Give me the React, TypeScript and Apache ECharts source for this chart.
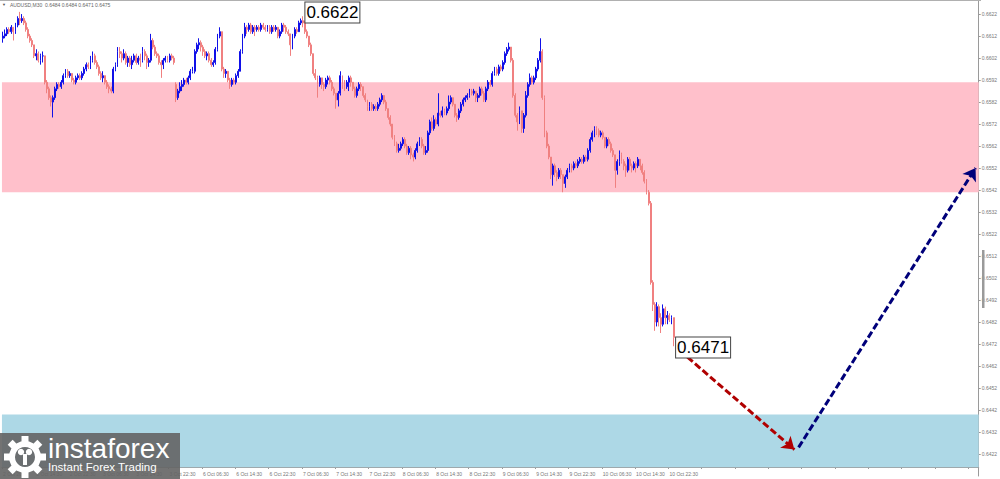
import React, { useEffect, useRef } from 'react';
import * as echarts from 'echarts';

// Prices are in 1/10000 (pips): 6612 => 0.6612. Open of each M30 bar = previous close, except the weekend gap bar.
const FIRST_OPEN = 6611;
const GAP_OPENS: Record<number, number> = { 83: 6590, 322: 6484 };

const CLOSE = [
  6612, 6613, 6615, 6614, 6616, 6614, 6617, 6620, 6619, 6620,
  6618, 6615, 6612, 6610, 6608, 6603, 6604, 6601, 6603, 6603,
  6591, 6588, 6584, 6582, 6584, 6588, 6590, 6589, 6591, 6594,
  6596, 6594, 6595, 6592, 6591, 6593, 6594, 6593, 6595, 6597,
  6599, 6598, 6601, 6603, 6600, 6598, 6595, 6593, 6594, 6591,
  6589, 6588, 6587, 6597, 6599, 6605, 6604, 6602, 6604, 6600,
  6602, 6599, 6601, 6603, 6600, 6602, 6601, 6605, 6603, 6600,
  6601, 6610, 6607, 6604, 6603, 6600, 6599, 6601, 6602, 6601,
  6603, 6602, 6600, 6584, 6587, 6589, 6590, 6592, 6591, 6593,
  6596, 6596, 6605, 6608, 6609, 6607, 6605, 6603, 6604, 6601,
  6599, 6600, 6606, 6612, 6614, 6597, 6595, 6596, 6592, 6590,
  6592, 6591, 6594, 6596, 6605, 6612, 6616, 6615, 6617, 6614,
  6616, 6615, 6616, 6615, 6617, 6616, 6615, 6616, 6614, 6616,
  6615, 6616, 6612, 6614, 6617, 6616, 6614, 6613, 6608, 6612,
  6615, 6614, 6618, 6619, 6618, 6614, 6612, 6608, 6604, 6595,
  6593, 6590, 6593, 6590, 6589, 6592, 6593, 6591, 6588, 6586,
  6583, 6586, 6594, 6590, 6589, 6591, 6593, 6591, 6588, 6585,
  6588, 6590, 6589, 6585, 6583, 6580, 6581, 6579, 6580, 6579,
  6581, 6583, 6585, 6582, 6579, 6575, 6572, 6566, 6563, 6560,
  6561, 6563, 6565, 6562, 6559, 6561, 6558, 6557, 6560, 6563,
  6565, 6562, 6559, 6560, 6568, 6573, 6570, 6574, 6572, 6577,
  6576, 6578, 6577, 6579, 6582, 6584, 6581, 6576, 6575, 6578,
  6581, 6583, 6584, 6585, 6587, 6586, 6587, 6584, 6585, 6588,
  6586, 6583, 6588, 6591, 6590, 6595, 6597, 6595, 6598, 6597,
  6600, 6604, 6606, 6607, 6601, 6585, 6576, 6573, 6578, 6570,
  6576, 6585, 6590, 6593, 6591, 6593, 6597, 6601, 6605, 6584,
  6568, 6562, 6557, 6549, 6553, 6550, 6548, 6551, 6549, 6545,
  6548, 6551, 6553, 6552, 6554, 6553, 6555, 6556, 6555, 6557,
  6556, 6560, 6565, 6568, 6570, 6569, 6567, 6568, 6566, 6562,
  6565, 6563, 6560, 6558, 6551, 6555, 6558, 6555, 6553, 6551,
  6556, 6553, 6552, 6554, 6553, 6556, 6553, 6550, 6546, 6541,
  6536, 6500, 6490, 6482, 6489, 6484, 6481, 6488, 6484, 6485,
  6483, 6484, 6475,
];

const HIGH = [
  6614, 6615, 6616, 6616, 6617, 6616, 6618, 6621, 6623, 6622,
  6621, 6619, 6616, 6613, 6611, 6608, 6606, 6605, 6604, 6605,
  6603, 6592, 6589, 6585, 6585, 6589, 6591, 6591, 6592, 6595,
  6597, 6597, 6596, 6595, 6593, 6594, 6595, 6595, 6596, 6598,
  6600, 6600, 6603, 6605, 6604, 6601, 6599, 6596, 6596, 6594,
  6592, 6590, 6589, 6598, 6600, 6607, 6607, 6605, 6606, 6605,
  6603, 6603, 6603, 6604, 6604, 6603, 6604, 6607, 6606, 6604,
  6602, 6613, 6611, 6608, 6605, 6604, 6601, 6602, 6603, 6603,
  6604, 6604, 6603, 6591, 6588, 6591, 6592, 6593, 6593, 6594,
  6597, 6598, 6606, 6609, 6611, 6610, 6608, 6606, 6605, 6605,
  6602, 6601, 6607, 6613, 6616, 6614, 6598, 6597, 6596, 6593,
  6593, 6593, 6595, 6597, 6606, 6613, 6618, 6617, 6618, 6618,
  6617, 6617, 6617, 6617, 6618, 6618, 6617, 6617, 6617, 6617,
  6617, 6617, 6616, 6615, 6618, 6618, 6617, 6615, 6613, 6613,
  6616, 6616, 6619, 6620, 6621, 6619, 6615, 6612, 6609, 6604,
  6597, 6594, 6594, 6593, 6591, 6593, 6594, 6594, 6592, 6589,
  6586, 6587, 6596, 6594, 6592, 6592, 6594, 6594, 6591, 6589,
  6589, 6591, 6591, 6589, 6586, 6583, 6582, 6582, 6581, 6581,
  6582, 6584, 6586, 6585, 6583, 6579, 6576, 6572, 6567, 6564,
  6563, 6564, 6566, 6566, 6563, 6562, 6562, 6559, 6561, 6564,
  6566, 6566, 6563, 6562, 6569, 6574, 6575, 6576, 6575, 6586,
  6578, 6580, 6579, 6580, 6585, 6585, 6584, 6581, 6577, 6579,
  6582, 6584, 6585, 6586, 6588, 6588, 6588, 6587, 6586, 6589,
  6589, 6587, 6589, 6592, 6592, 6596, 6598, 6598, 6599, 6599,
  6601, 6605, 6607, 6609, 6607, 6602, 6586, 6577, 6580, 6577,
  6577, 6587, 6591, 6595, 6594, 6594, 6598, 6602, 6611, 6606,
  6585, 6569, 6563, 6557, 6554, 6554, 6551, 6552, 6552, 6549,
  6549, 6552, 6554, 6554, 6555, 6555, 6556, 6557, 6557, 6558,
  6558, 6561, 6566, 6569, 6571, 6571, 6570, 6569, 6569, 6566,
  6566, 6566, 6564, 6561, 6558, 6556, 6560, 6559, 6556, 6554,
  6557, 6557, 6554, 6555, 6555, 6557, 6556, 6554, 6551, 6547,
  6542, 6537, 6501, 6491, 6491, 6490, 6486, 6490, 6489, 6487,
  6486, 6485, 6484,
];

const LOW = [
  6609, 6611, 6612, 6613, 6613, 6610, 6613, 6616, 6617, 6618,
  6617, 6614, 6611, 6609, 6607, 6602, 6601, 6600, 6599, 6600,
  6590, 6586, 6583, 6580, 6575, 6583, 6587, 6588, 6588, 6590,
  6593, 6593, 6593, 6591, 6590, 6590, 6592, 6592, 6592, 6594,
  6596, 6597, 6597, 6600, 6599, 6597, 6594, 6592, 6591, 6590,
  6588, 6586, 6586, 6586, 6596, 6598, 6602, 6600, 6601, 6599,
  6598, 6598, 6597, 6600, 6599, 6599, 6598, 6600, 6601, 6597,
  6598, 6600, 6606, 6603, 6602, 6599, 6593, 6597, 6600, 6600,
  6600, 6601, 6599, 6582, 6583, 6586, 6587, 6589, 6590, 6590,
  6592, 6595, 6595, 6604, 6606, 6605, 6603, 6602, 6601, 6600,
  6598, 6598, 6599, 6605, 6611, 6596, 6593, 6593, 6591, 6588,
  6589, 6590, 6590, 6593, 6596, 6604, 6611, 6613, 6614, 6613,
  6613, 6612, 6614, 6614, 6614, 6615, 6614, 6614, 6613, 6613,
  6614, 6614, 6611, 6611, 6613, 6614, 6613, 6612, 6603, 6606,
  6611, 6613, 6614, 6617, 6616, 6613, 6611, 6607, 6603, 6594,
  6592, 6584, 6589, 6588, 6587, 6588, 6590, 6590, 6587, 6585,
  6579, 6580, 6585, 6588, 6587, 6588, 6587, 6589, 6587, 6584,
  6584, 6587, 6587, 6584, 6582, 6578, 6578, 6578, 6578, 6578,
  6578, 6580, 6582, 6581, 6578, 6574, 6571, 6565, 6562, 6559,
  6559, 6560, 6562, 6561, 6558, 6558, 6556, 6555, 6556, 6559,
  6562, 6561, 6558, 6558, 6559, 6567, 6569, 6569, 6571, 6571,
  6575, 6575, 6576, 6576, 6578, 6581, 6580, 6575, 6573, 6574,
  6577, 6580, 6582, 6583, 6584, 6585, 6585, 6582, 6582, 6584,
  6585, 6582, 6582, 6587, 6589, 6589, 6594, 6594, 6594, 6596,
  6596, 6599, 6603, 6605, 6600, 6584, 6575, 6569, 6572, 6568,
  6568, 6575, 6584, 6589, 6590, 6590, 6592, 6596, 6600, 6583,
  6566, 6561, 6556, 6547, 6544, 6548, 6546, 6547, 6547, 6541,
  6543, 6547, 6550, 6550, 6551, 6552, 6552, 6554, 6554, 6554,
  6555, 6555, 6559, 6564, 6566, 6567, 6566, 6566, 6565, 6561,
  6561, 6562, 6559, 6557, 6543, 6549, 6553, 6554, 6551, 6548,
  6550, 6551, 6550, 6551, 6550, 6552, 6551, 6549, 6545, 6540,
  6535, 6499, 6487, 6478, 6480, 6480, 6477, 6480, 6481, 6481,
  6482, 6481, 6471,
];

// one label every 16 bars (8 hours)
const TICK_LABELS = [
  '2 Oct 2025', '2 Oct 14:30', '2 Oct 22:30', '3 Oct 06:30', '3 Oct 14:30', '3 Oct 22:30',
  '6 Oct 06:30', '6 Oct 14:30', '6 Oct 22:30', '7 Oct 06:30', '7 Oct 14:30', '7 Oct 22:30',
  '8 Oct 06:30', '8 Oct 14:30', '8 Oct 22:30', '9 Oct 06:30', '9 Oct 14:30', '9 Oct 22:30',
  '10 Oct 06:30', '10 Oct 14:30', '10 Oct 22:30',
];
const TICK_STEP = 16;
const CATEGORY_COUNT = 469; // bars + empty future space

const PRICE_MIN = 0.6412;
const PRICE_MAX = 0.66284;
const PRICE_STEP = 0.001;

const SUPPLY_ZONE = [0.6591, 0.6541];
const DEMAND_ZONE = [0.644, 0.6416];

const WAVE_HIGH = { index: 144, price: 0.66227, text: '0.6622' };
const WAVE_LOW = { index: 322, price: 0.64704, text: '0.6471' };

const FORECAST_DOWN = [[325, 0.6469], [380, 0.6424]];
const FORECAST_UP = [[382, 0.6425], [467, 0.6552]];

const BID_PRICE = 0.6478;
const LAST_PRICE = 0.6475;
const TITLE = 'AUDUSD,M30  0.6484 0.6484 0.6471 0.6475';

const FONT = '"Liberation Sans", Arial, sans-serif';
const BULL = '#1010e8';
const BEAR = '#f08080';

function buildCandles() {
  return CLOSE.map((c, i) => {
    const o = i === 0 ? FIRST_OPEN : GAP_OPENS[i] ?? CLOSE[i - 1];
    const h = Math.max(HIGH[i], o, c);
    const l = Math.min(LOW[i], o, c);
    return [o / 10000, c / 10000, l / 10000, h / 10000];
  });
}

function buildOption(): any {
  const categories = Array.from({ length: CATEGORY_COUNT }, (_, i) => String(i));
  const waveLabel = {
    show: true,
    position: 'right',
    distance: 2,
    color: '#000',
    fontSize: 17,
    fontFamily: FONT,
    lineHeight: 19,
    backgroundColor: '#fff',
    borderColor: '#444',
    borderWidth: 1,
    padding: [1, 1, 0, 1],
  };
  const teeth = Array.from({ length: 8 }, (_, k) => ({
    type: 'rect',
    x: 25,
    y: 457,
    rotation: (k * Math.PI) / 4,
    shape: { x: -3.5, y: -21, width: 7, height: 7 },
    style: { fill: '#fff' },
    z: 101,
  }));
  return {
    animation: false,
    backgroundColor: '#fff',
    grid: { left: 0, right: 19, top: 0, bottom: 3, containLabel: false },
    xAxis: {
      type: 'category',
      data: categories,
      boundaryGap: true,
      offset: -9,
      axisLine: { show: true, lineStyle: { color: '#9a9a9a', width: 1 } },
      axisTick: { show: true, interval: TICK_STEP - 1, length: 2, lineStyle: { color: '#9a9a9a' } },
      axisLabel: {
        interval: TICK_STEP - 1,
        fontSize: 5,
        fontFamily: FONT,
        color: '#777',
        align: 'left',
        margin: 4,
        formatter: (_v: string, idx: number) => {
          const k = idx / TICK_STEP;
          return Number.isInteger(k) && k < TICK_LABELS.length ? TICK_LABELS[k] : '';
        },
      },
      splitLine: { show: false },
    },
    yAxis: {
      type: 'value',
      position: 'right',
      min: PRICE_MIN,
      max: PRICE_MAX,
      interval: PRICE_STEP,
      scale: true,
      axisLine: { show: true, lineStyle: { color: '#9a9a9a', width: 1 } },
      axisTick: { show: true, length: 2, lineStyle: { color: '#9a9a9a' } },
      axisLabel: {
        fontSize: 5,
        fontFamily: FONT,
        color: '#777',
        margin: 3,
        showMinLabel: false,
        showMaxLabel: false,
        formatter: (v: number) => v.toFixed(4),
      },
      splitLine: { show: false },
    },
    series: [
      {
        type: 'candlestick',
        data: buildCandles(),
        barWidth: 1.4,
        silent: true,
        itemStyle: {
          color: BULL,
          color0: BEAR,
          borderColor: BULL,
          borderColor0: BEAR,
          borderWidth: 1,
        },
        markArea: {
          silent: true,
          data: [
            [{ yAxis: SUPPLY_ZONE[0], itemStyle: { color: '#ffc0cb' } }, { yAxis: SUPPLY_ZONE[1] }],
            [{ yAxis: DEMAND_ZONE[0], itemStyle: { color: '#add8e6' } }, { yAxis: DEMAND_ZONE[1] }],
          ],
        },
        markPoint: {
          silent: true,
          symbol: 'rect',
          symbolSize: 1,
          itemStyle: { color: 'rgba(0,0,0,0)' },
          data: [
            { coord: [WAVE_HIGH.index, WAVE_HIGH.price], label: { ...waveLabel, formatter: WAVE_HIGH.text } },
            { coord: [WAVE_LOW.index, WAVE_LOW.price], label: { ...waveLabel, formatter: WAVE_LOW.text } },
          ],
        },
        markLine: {
          silent: true,
          symbol: ['none', 'arrow'],
          symbolSize: 12,
          label: { show: false },
          data: [
            [
              { coord: FORECAST_DOWN[0], lineStyle: { color: '#b00000', width: 3, type: [7, 3] } },
              { coord: FORECAST_DOWN[1] },
            ],
            [
              { coord: FORECAST_UP[0], lineStyle: { color: '#00007a', width: 3, type: [7, 3] } },
              { coord: FORECAST_UP[1] },
            ],
            {
              yAxis: BID_PRICE,
              symbol: 'none',
              lineStyle: { opacity: 0 },
              label: {
                show: true,
                position: 'end',
                distance: 2,
                formatter: BID_PRICE.toFixed(4),
                color: '#fff',
                backgroundColor: '#000',
                fontSize: 5,
                fontFamily: FONT,
                padding: [0, 2],
              },
            },
            {
              yAxis: LAST_PRICE,
              symbol: 'none',
              lineStyle: { opacity: 0 },
              label: {
                show: true,
                position: 'end',
                distance: 2,
                formatter: LAST_PRICE.toFixed(4),
                color: '#fff',
                backgroundColor: '#8a8a8a',
                fontSize: 5,
                fontFamily: FONT,
                padding: [0, 2],
              },
            },
          ],
        },
      },
    ],
    graphic: [
      { type: 'line', shape: { x1: 0, y1: 0.5, x2: 981, y2: 0.5 }, style: { stroke: '#b0b0b0', lineWidth: 1 }, z: 50 },
      { type: 'rect', shape: { x: 982, y: 250, width: 2.5, height: 58 }, style: { fill: '#9a9a9a' }, z: 50 },
      { type: 'text', x: 2, y: 4.7, style: { text: '▼', fontSize: 4, fill: '#555', verticalAlign: 'middle' }, z: 50 },
      {
        type: 'text',
        x: 10,
        y: 4.7,
        style: { text: TITLE, fontSize: 5, fontFamily: FONT, fill: '#666', verticalAlign: 'middle' },
        z: 50,
      },
      { type: 'rect', shape: { x: 0, y: 433, width: 180, height: 46 }, style: { fill: 'rgba(100,100,100,0.9)' }, z: 100 },
      { type: 'ring', shape: { cx: 25, cy: 457, r: 16, r0: 10 }, style: { fill: '#fff' }, z: 101 },
      ...teeth,
      { type: 'circle', shape: { cx: 21, cy: 452, r: 3.2 }, style: { fill: '#fff' }, z: 101 },
      { type: 'circle', shape: { cx: 29, cy: 452, r: 3.2 }, style: { fill: '#fff' }, z: 101 },
      { type: 'rect', shape: { x: 23, y: 454, width: 4, height: 11 }, style: { fill: '#fff' }, z: 101 },
      {
        type: 'text',
        x: 48,
        y: 434,
        style: { text: 'instaforex', fontSize: 28, fontFamily: FONT, fill: '#fff', verticalAlign: 'top' },
        z: 101,
      },
      {
        type: 'text',
        x: 48,
        y: 461,
        style: { text: 'Instant Forex Trading', fontSize: 11.5, fontFamily: FONT, fill: '#fff', verticalAlign: 'top' },
        z: 101,
      },
    ],
  };
}

export default function App() {
  const ref = useRef<HTMLDivElement>(null);
  useEffect(() => {
    document.body.style.margin = '0';
    const chart = echarts.init(ref.current!, null, { renderer: 'svg' });
    chart.setOption(buildOption());
    return () => chart.dispose();
  }, []);
  return <div ref={ref} style={{ width: 1000, height: 479 }} />;
}
